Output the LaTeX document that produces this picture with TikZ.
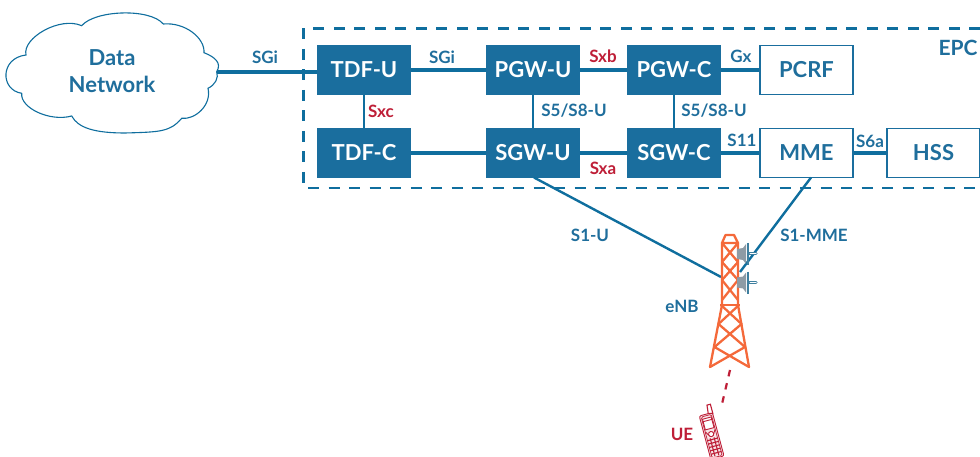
\documentclass[tikz,border=0pt]{standalone}
\usepackage{fontspec}
\setmainfont{Lato}[BoldFont={Lato Bold}]
\definecolor{bluefill}{HTML}{1A6E9E}
\definecolor{blueline}{HTML}{0F6E9E}
\definecolor{bluetext}{HTML}{1F6E9C}
\definecolor{redtext}{HTML}{BE1E37}
\definecolor{towerc}{HTML}{F4693A}
\definecolor{dishc}{HTML}{8E9BA5}
\definecolor{dishd}{HTML}{3E7F9F}
\tikzset{
 fbox/.style={fill=bluefill,draw=bluefill,text=white,minimum width=93pt,minimum height=49pt,inner sep=0pt,font=\bfseries\fontsize{22}{24}\selectfont},
 obox/.style={fill=white,draw=bluefill,line width=1.1pt,text=bluetext,minimum width=93pt,minimum height=49pt,inner sep=0pt,font=\bfseries\fontsize{22}{24}\selectfont},
 conn/.style={draw=blueline,line width=3.2pt},
 thin conn/.style={draw=blueline,line width=2.4pt},
 blab/.style={text=bluetext,inner sep=0pt,font=\bfseries\fontsize{17}{20}\selectfont},
 rlab/.style={text=redtext,inner sep=0pt,font=\bfseries\fontsize{17}{20}\selectfont},
 tw/.style={draw=towerc,line width=2.3pt,line cap=round,line join=round},
 ph/.style={draw=redtext,line width=0.9pt},
}
\begin{document}
\begin{tikzpicture}[x=1pt,y=-1pt]
\useasboundingbox (0,0) rectangle (980,457);
% EPC frame
\draw[blueline,line width=2.2pt,dash pattern=on 11pt off 9.5pt] (980,28.5) -- (303.5,28.5) -- (303.5,188) -- (980,188);
% Cloud
\draw[blueline,line width=1.1pt,fill=white] (81.7,25.7)
 .. controls (95,10) and (150,8) .. (163.3,24)
 .. controls (185,22) and (205,38) .. (204,52.7)
 .. controls (215,57) and (222,63) .. (216.7,71.7)
 .. controls (219,78) and (215,85) .. (208,88.3)
 .. controls (212,105) and (195,120) .. (181.7,118.3)
 .. controls (170,132) and (160,132) .. (125,133)
 .. controls (95,133) and (78,128) .. (71.7,116)
 .. controls (50,122) and (20,108) .. (21.7,93.3)
 .. controls (0,90) and (0,58) .. (26,55)
 .. controls (22,38) and (60,16) .. (81.7,25.7) -- cycle;
\node[text=bluetext,align=center,inner sep=0pt,font=\bfseries\fontsize{22}{27}\selectfont] (dn) at (112,71.5) {Data\\Network};
\coordinate (dne) at (216.7,72);
% Boxes
\node[fbox] (tdfu) at (364,70) {TDF-U};
\node[fbox] (tdfc) at (364,153) {TDF-C};
\node[fbox] (pgwu) at (533,70) {PGW-U};
\node[fbox] (sgwu) at (533,153) {SGW-U};
\node[fbox] (pgwc) at (674,70) {PGW-C};
\node[fbox] (sgwc) at (674,153) {SGW-C};
\node[obox] (pcrf) at (806.5,70) {PCRF};
\node[obox] (mme) at (806.5,153) {MME};
\node[obox] (hss) at (933.5,153) {HSS};
% Connectors
\coordinate (tdfw) at (tdfu.west |- dne);
\draw[conn] (dne) -- (tdfw);
\draw[conn] (tdfu) -- (pgwu);
\draw[conn] (pgwu) -- (pgwc);
\draw[conn] (pgwc) -- (pcrf);
\draw[conn] (tdfc) -- (sgwu);
\draw[conn] (sgwu) -- (sgwc);
\draw[conn] (sgwc) -- (mme);
\draw[conn] (mme) -- (hss);
\draw[thin conn] (tdfu) -- (tdfc);
\draw[thin conn] (pgwu) -- (sgwu);
\draw[thin conn] (pgwc) -- (sgwc);
% Tower anchors
\coordinate (enbl) at (721,277);
\coordinate (enbr) at (740,272);
\coordinate (sgwo) at (534,177.5);
\coordinate (mmeo) at (811,177.5);
\draw[thin conn] (sgwo) -- (enbl);
\draw[thin conn] (mmeo) -- (enbr);
% Tower
\draw[tw] (722,243) -- (725.5,235) -- (734,235) -- (738,243) -- cycle;
\draw[tw] (722,243) -- (722,305) -- (710,367);
\draw[tw] (738,243) -- (738,305) -- (749,367);
\draw[tw] (722,305) -- (738,305);
\draw[tw] (722,243) -- (738,262) -- (722,280) -- (738,300);
\draw[tw] (738,243) -- (722,262) -- (738,280) -- (722,300);
\draw[tw] (721,305) -- (741.5,324) -- (714.5,347) -- (749,367);
\draw[tw] (739,305) -- (718.5,324) -- (745,347) -- (710,367);
% Dishes
\foreach \yy in {254,282.5}{
 \fill[dishc] (737,\yy-5) -- (743,\yy-6) -- (746,\yy-10) -- (746,\yy+10) -- (743,\yy+6) -- (737,\yy+5) -- cycle;
 \draw[dishd,line width=2pt] (747.5,\yy-11) -- (747.5,\yy+11);
 \draw[dishd,line width=3pt,line cap=round] (749,\yy) -- (756,\yy);
 \draw[white,line width=1pt,line cap=round] (750,\yy) -- (756,\yy);
}
% Radio link
\coordinate (towb) at (730,370);
\coordinate (uet) at (722,404);
\draw[draw=redtext,line width=2.2pt,dash pattern=on 6.5pt off 7pt] (towb) -- (uet);
% Phone
\begin{scope}[shift={(711.5,435.5)},rotate=15]
 \fill[redtext!12] (-6.5,-22) rectangle (6.5,22);
 \draw[ph,rounded corners=2pt] (-6.8,-22) rectangle (6.8,23);
 \draw[ph,line width=0.7pt,rounded corners=1.5pt] (-5.2,-20.5) rectangle (5.2,22);
 \draw[ph,line width=1.1pt,fill=white] (2.5,-22) -- (3.5,-30.5) -- (7,-30.5) -- (7,-21) -- cycle;
 \draw[ph,fill=white] (-4.5,-18) rectangle (4.5,-7);
 \draw[ph] (-4.5,-15.5) -- (4.5,-15.5);
 \draw[ph,fill=white] (0,-1.5) circle (2.6pt);
 \draw[ph] (-5,-5) -- (-2.5,-1) (5,-5) -- (2.5,-1);
 \foreach \yy in {4,7.5,11,14.5,18}{
  \draw[ph,line width=1.1pt] (-5.5,\yy) -- (5.5,\yy);
 }
 \foreach \xx in {-2,2}{
  \draw[ph,line width=1.1pt] (\xx,2.5) -- (\xx,21);
 }
\end{scope}
% Labels
\node[blab] (l1) at (265,57) {SGi};
\node[blab] (l2) at (442,57) {SGi};
\node[rlab] (l3) at (603,56) {Sxb};
\node[blab] (l4) at (741,56) {Gx};
\node[rlab] (l5) at (381,111) {Sxc};
\node[blab] (l6) at (574,111) {S5/S8-U};
\node[blab] (l7) at (714,111) {S5/S8-U};
\node[blab] (l8) at (742,140) {S11};
\node[blab] (l9) at (870,141) {S6a};
\node[rlab] (l10) at (603,168) {Sxa};
\node[blab,font=\bfseries\fontsize{21}{24}\selectfont] (epc) at (958,48) {EPC};
\node[blab] (l11) at (590,235) {S1-U};
\node[blab] (l12) at (814,235) {S1-MME};
\node[blab] (l13) at (682,306) {eNB};
\node[rlab] (l14) at (682,434) {UE};
\end{tikzpicture}
\end{document}
